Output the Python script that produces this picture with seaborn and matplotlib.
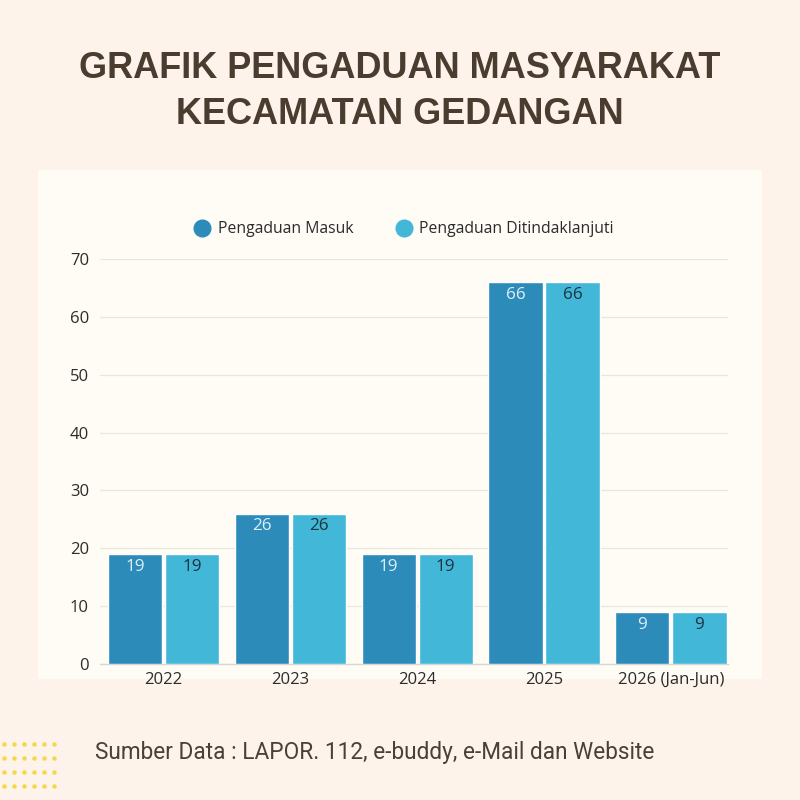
import numpy as np
import pandas as pd
import seaborn as sns
import matplotlib.pyplot as plt
from matplotlib.patches import Rectangle
from matplotlib.lines import Line2D

# data
years = ["2022", "2023", "2024", "2025", "2026 (Jan-Jun)"]
masuk = [19, 26, 19, 66, 9]
ditindaklanjuti = [19, 26, 19, 66, 9]
series = ["Pengaduan Masuk", "Pengaduan Ditindaklanjuti"]

df = pd.DataFrame({
    "tahun": years * 2,
    "jumlah": masuk + ditindaklanjuti,
    "seri": [series[0]] * len(years) + [series[1]] * len(years),
})

colors = ["#2D8BBA", "#42B7D7"]
label_colors = ["#DCEFF7", "#1E3441"]
bg = "#FDF3EA"
panel = "#FFFCF6"
brown = "#4A3C2E"

sns.set_theme(style="white")
plt.rcParams["font.family"] = ["Open Sans", "DejaVu Sans"]

fig = plt.figure(figsize=(8, 8), dpi=100, facecolor=bg)

# chart panel (background axes)
bg_ax = fig.add_axes([0, 0, 1, 1], zorder=0)
bg_ax.set_axis_off()
bg_ax.set_xlim(0, 800)
bg_ax.set_ylim(800, 0)
bg_ax.add_patch(Rectangle((38, 170), 724, 509, facecolor=panel, edgecolor="none"))

# decorative dots
dx, dy = np.meshgrid(np.arange(6) * 10 + 4, np.arange(4) * 14 + 744)
bg_ax.plot(dx.ravel(), dy.ravel(), linestyle="none", marker="o",
           markersize=2.2, color="#F4D84A")

ax = fig.add_axes([100 / 800, 1 - 664 / 800, 628 / 800, 405 / 800], zorder=2)
ax.set_facecolor("none")

sns.barplot(data=df, x="tahun", y="jumlah", hue="seri", palette=colors,
            width=0.9, gap=0.05, saturation=1, legend=False, ax=ax, zorder=3)

for i, cont in enumerate(ax.containers):
    ax.bar_label(cont, labels=[str(int(v)) for v in cont.datavalues],
                 label_type="edge", padding=-15, color=label_colors[i],
                 fontsize=12.3, zorder=4)

ax.set_ylim(0, 70)
ax.set_xlim(-0.5, 4.45)
ax.set_yticks(range(0, 71, 10))
ax.grid(axis="y", color="#E9E6DF", linewidth=0.9, zorder=0)
ax.set_axisbelow(True)
for s in ["left", "right", "top"]:
    ax.spines[s].set_visible(False)
ax.spines["bottom"].set_color("#D9D6D0")
ax.spines["bottom"].set_linewidth(1)
ax.tick_params(axis="both", length=0, labelsize=12, labelcolor="#2B2B2B")
ax.tick_params(axis="y", pad=8)
ax.tick_params(axis="x", pad=5.5)
ax.set_xlabel("")
ax.set_ylabel("")

# legend
handles = [Line2D([], [], marker="o", linestyle="none", markersize=12,
                  markerfacecolor=c, markeredgecolor=c) for c in colors]
fig.legend(handles, series, loc="center", bbox_to_anchor=(400 / 800, 1 - 229 / 800),
           ncol=2, frameon=False, fontsize=11.3, handletextpad=0.0,
           columnspacing=2.2, labelcolor="#2B2B2B")

# title
fig.text(0.5, 1 - 68 / 800, "GRAFIK PENGADUAN MASYARAKAT", ha="center", va="center",
         fontsize=26, fontweight="bold", color=brown, family="Liberation Sans")
fig.text(0.5, 1 - 115 / 800, "KECAMATAN GEDANGAN", ha="center", va="center",
         fontsize=26, fontweight="bold", color=brown, family="Liberation Sans")

# source note
fig.text(95 / 800, 1 - 753 / 800, "Sumber Data : LAPOR. 112, e-buddy, e-Mail dan Website",
         ha="left", va="center", fontsize=16.3, color="#4A4036", family="Roboto")

fig.savefig("out.png", dpi=100, facecolor=bg)
